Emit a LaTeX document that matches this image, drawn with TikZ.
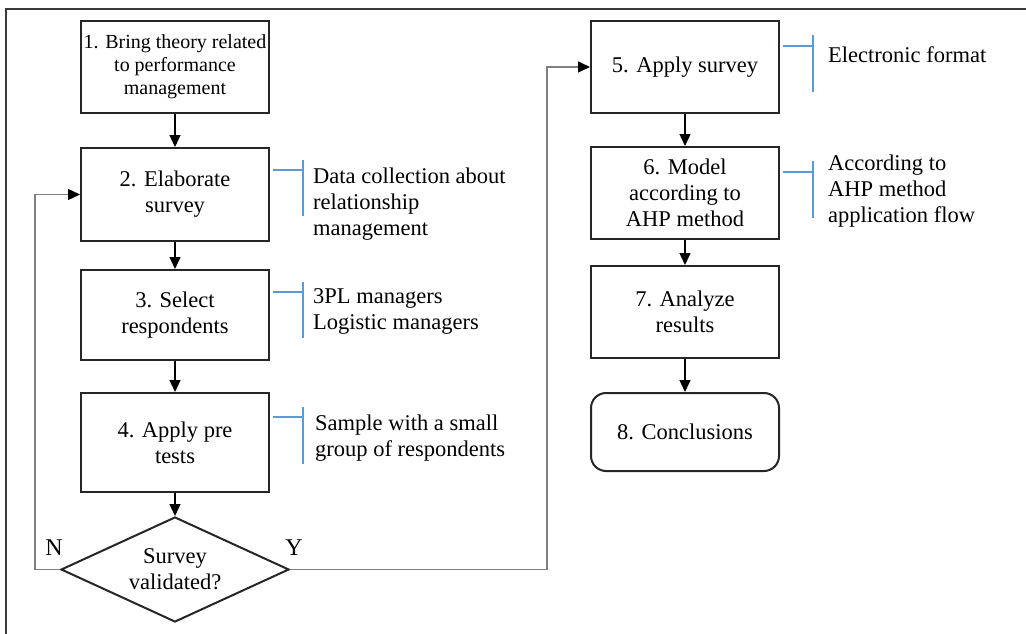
\documentclass[tikz,border=0pt]{standalone}
\usepackage{fontspec}
\setmainfont{LiberationSerif}[Extension=.ttf, UprightFont=*-Regular, BoldFont=*-Bold, ItalicFont=*-Italic, BoldItalicFont=*-BoldItalic]
\usetikzlibrary{arrows.meta,shapes.geometric,calc}
\definecolor{boxline}{HTML}{262626}
\definecolor{annblue}{HTML}{5B9BD5}
\definecolor{loopgray}{HTML}{7F7F7F}
\definecolor{framegray}{HTML}{3A3A3A}
\tikzset{
  stepbox/.style={draw=boxline, line width=2pt, minimum width=188pt, inner sep=0pt, align=center,
    font=\fontsize{22.5}{26}\selectfont},
  smallbox/.style={stepbox, font=\fontsize{20}{23}\selectfont},
  decbox/.style={draw=boxline, line width=2pt, diamond, aspect=2.17, minimum width=228pt, minimum height=105pt,
    inner sep=0pt, align=center, font=\fontsize{22.5}{26}\selectfont},
  anntext/.style={anchor=west, align=left, inner sep=0pt, font=\fontsize{22.5}{26}\selectfont},
  flow/.style={draw=black, line width=1.4pt, -{Triangle[length=12pt,width=11pt]}},
  loopline/.style={draw=loopgray, line width=1.4pt, -{Triangle[length=12pt,width=11pt,fill=black,color=black]}},
  bracket/.style={draw=annblue, line width=2pt},
  yn/.style={font=\fontsize{24}{28}\selectfont, inner sep=0pt}
}
\begin{document}
\begin{tikzpicture}[x=1pt,y=-1pt]
\useasboundingbox (0,0) rectangle (1026,634);
% frame
\draw[framegray, line width=2pt] (6,640) -- (6,9) -- (1030,9);

% left column
\node[smallbox, minimum height=92pt] (b1) at (175,67) {1. Bring theory related\\to performance\\management};
\node[stepbox, minimum height=93pt] (b2) at (175,194.5) {2. Elaborate\\survey};
\node[stepbox, minimum height=90pt] (b3) at (175,315) {3. Select\\respondents};
\node[stepbox, minimum height=99pt] (b4) at (175,442.5) {4. Apply pre\\tests};
\node[decbox] (d) at (175,569.5) {Survey\\validated?};

% right column
\node[stepbox, minimum height=92pt] (b5) at (685,67) {5. Apply survey};
\node[stepbox, minimum height=92pt] (b6) at (685,193) {6. Model\\according to\\AHP method};
\node[stepbox, minimum height=92pt] (b7) at (685,312) {7. Analyze\\results};
\node[stepbox, minimum height=78pt, rounded corners=15pt] (b8) at (685,432) {8. Conclusions};

% flow arrows
\draw[flow] (b1) -- (b2);
\draw[flow] (b2) -- (b3);
\draw[flow] (b3) -- (b4);
\draw[flow] (b4) -- (d);
\draw[flow] (b5) -- (b6);
\draw[flow] (b6) -- (b7);
\draw[flow] (b7) -- (b8);

% loops
\coordinate (nl) at (35,569.5);
\coordinate (yl) at (547,569.5);
\draw[loopline] (d.west) -- (nl) |- (b2.west);
\draw[loopline] (d.east) -- (yl) |- (b5.west);
\node[yn] (nlab) at (54,548) {N};
\node[yn] (ylab) at (294,548) {Y};

% annotations
\draw[bracket] ($(b2.north east)+(3,23)$) -- ++(30,0);
\draw[bracket] ($(b2.north east)+(33,13)$) -- ++(0,56);
\node[anntext] (a2) at (313,204) {Data collection about\\relationship\\management};

\draw[bracket] ($(b3.north east)+(3,23)$) -- ++(30,0);
\draw[bracket] ($(b3.north east)+(33,13)$) -- ++(0,56);
\node[anntext] (a3) at (313,311) {3PL managers\\Logistic managers};

\draw[bracket] ($(b4.north east)+(3,25)$) -- ++(30,0);
\draw[bracket] ($(b4.north east)+(33,15)$) -- ++(0,57);
\node[anntext] (a4) at (315,438) {Sample with a small\\group of respondents};

\draw[bracket] ($(b5.north east)+(3,26)$) -- ++(30,0);
\draw[bracket] ($(b5.north east)+(33,15)$) -- ++(0,57);
\node[anntext] (a5) at (828,55) {Electronic format};

\draw[bracket] ($(b6.north east)+(3,26)$) -- ++(30,0);
\draw[bracket] ($(b6.north east)+(33,15)$) -- ++(0,57);
\node[anntext] (a6) at (828,191) {According to\\AHP method\\application flow};
\end{tikzpicture}
\end{document}
